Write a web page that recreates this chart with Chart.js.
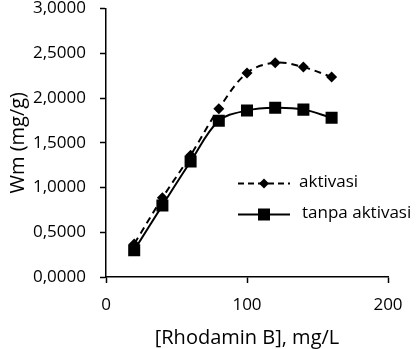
<!DOCTYPE html>
<html>
<head>
<meta charset="utf-8">
<script src="https://cdn.jsdelivr.net/npm/chart.js@4.4.1/dist/chart.umd.min.js"></script>
<style>
  html, body { margin: 0; padding: 0; background: #ffffff; }
  #wrap { width: 418px; height: 349px; }
</style>
</head>
<body>
<div id="wrap"><canvas id="myCanvas" width="418" height="349"></canvas></div>
<script>
// konsentrasi Rhodamin B (mg/L)
const konsentrasi = [20, 40, 60, 80, 100, 120, 140, 160];
// Wm (mg/g)
const wmAktivasi = [0.37, 0.885, 1.36, 1.88, 2.28, 2.395, 2.345, 2.235];
const wmTanpaAktivasi = [0.30, 0.80, 1.29, 1.745, 1.86, 1.89, 1.87, 1.78];

const xTickValues = [0, 100, 200];
const yTickValues = [0, 0.5, 1, 1.5, 2, 2.5, 3];
const yTickLabels = ["0,0000", "0,5000", "1,0000", "1,5000", "2,0000", "2,5000", "3,0000"];

const namaSeri = ["aktivasi", "tanpa aktivasi"];

Chart.defaults.font.family = '"Open Sans", sans-serif';
Chart.defaults.color = "#000000";

function titik(xs, ys) {
  return xs.map((x, i) => ({ x: x, y: ys[i] }));
}

// legenda di dalam area grafik, digambar manual
const legendaPlugin = {
  id: "legenda",
  afterDraw(chart) {
    const ctx = chart.ctx;
    const a = chart.chartArea;
    const x0 = a.left + 132;
    const x1 = a.left + 184;
    const xm = a.left + 158;
    const baris = [a.top + 175, a.top + 206];

    ctx.save();
    ctx.strokeStyle = "#000000";
    ctx.fillStyle = "#000000";
    ctx.lineWidth = 2;

    // aktivasi: garis putus-putus + belah ketupat
    ctx.setLineDash([6, 4]);
    ctx.beginPath();
    ctx.moveTo(x0, baris[0]);
    ctx.lineTo(x1, baris[0]);
    ctx.stroke();
    ctx.setLineDash([]);
    ctx.beginPath();
    ctx.moveTo(xm - 5, baris[0]);
    ctx.lineTo(xm, baris[0] - 5);
    ctx.lineTo(xm + 5, baris[0]);
    ctx.lineTo(xm, baris[0] + 5);
    ctx.closePath();
    ctx.fill();

    // tanpa aktivasi: garis penuh + kotak
    ctx.beginPath();
    ctx.moveTo(x0, baris[1]);
    ctx.lineTo(x1, baris[1]);
    ctx.stroke();
    ctx.fillRect(xm - 6, baris[1] - 6, 12, 12);

    ctx.font = '17px "Open Sans"';
    ctx.textBaseline = "middle";
    ctx.textAlign = "left";
    ctx.fillText(namaSeri[0], a.left + 193, baris[0] - 1);
    ctx.fillText(namaSeri[1], a.left + 196, baris[1] - 1);
    ctx.restore();
  }
};

const dados = {
  datasets: [
    {
      label: namaSeri[0],
      data: titik(konsentrasi, wmAktivasi),
      borderColor: "#000000",
      backgroundColor: "#000000",
      borderWidth: 2,
      borderDash: [7, 5],
      pointStyle: "rectRot",
      pointRadius: 5.5,
      pointBorderWidth: 0,
      tension: 0.35,
      order: 1,
    },
    {
      label: namaSeri[1],
      data: titik(konsentrasi, wmTanpaAktivasi),
      borderColor: "#000000",
      backgroundColor: "#000000",
      borderWidth: 2,
      pointStyle: "rect",
      pointRadius: 8.5,
      pointBorderWidth: 0,
      tension: 0.35,
      order: 0,
    },
  ],
};

const config = {
  type: "line",
  data: dados,
  plugins: [legendaPlugin],
  options: {
    responsive: false,
    animation: false,
    devicePixelRatio: 1,
    layout: { padding: { top: 6, right: 30, bottom: 0, left: 0 } },
    plugins: {
      legend: { display: false },
      tooltip: { enabled: false },
    },
    scales: {
      x: {
        type: "linear",
        min: 0,
        max: 200,
        afterBuildTicks: (scale) => {
          scale.ticks = xTickValues.map((v) => ({ value: v }));
        },
        afterFit: (scale) => {
          scale.height = 72;
          scale.paddingLeft = 0;
          scale.paddingRight = 0;
        },
        border: { display: true, color: "#000000", width: 1.5 },
        grid: {
          drawOnChartArea: false,
          drawTicks: true,
          tickLength: 6,
          tickWidth: 1.5,
          tickColor: "#000000",
        },
        ticks: {
          font: { size: 17 },
          padding: 12,
          maxRotation: 0,
        },
        title: {
          display: true,
          text: "[Rhodamin B], mg/L",
          font: { size: 20, lineHeight: 1.1 },
          padding: { top: 0, bottom: 0 },
        },
      },
      y: {
        min: 0,
        max: 3,
        afterBuildTicks: (scale) => {
          scale.ticks = yTickValues.map((v) => ({ value: v }));
        },
        afterFit: (scale) => {
          scale.width = 106;
          scale.paddingTop = 0;
          scale.paddingBottom = 0;
        },
        border: { display: true, color: "#000000", width: 1.5 },
        grid: {
          drawOnChartArea: false,
          drawTicks: true,
          tickLength: 6,
          tickWidth: 1.5,
          tickColor: "#000000",
        },
        ticks: {
          font: { size: 17 },
          padding: 14,
          callback: (v, i) => yTickLabels[i],
        },
        title: {
          display: true,
          text: "Wm (mg/g)",
          font: { size: 20 },
          padding: { top: 6, bottom: 0 },
        },
      },
    },
  },
};

const ctx = document.getElementById("myCanvas").getContext("2d");
const myChart = new Chart(ctx, config);
</script>
</body>
</html>
